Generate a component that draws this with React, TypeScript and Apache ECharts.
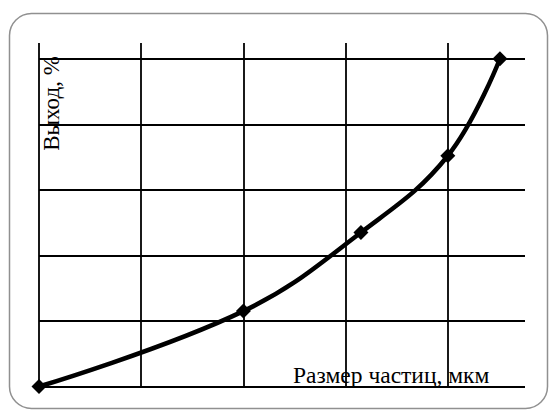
import React, { useEffect, useRef } from "react";
import * as echarts from "echarts";

const xValues = [0, 2, 3.15, 4, 4.51];
const yValues = [0, 1.15, 2.35, 3.52, 5];
const xGridLines = [0, 1, 2, 3, 4];
const yGridLines = [0, 1, 2, 3, 4, 5];
const xTitle = "Размер частиц, мкм";
const yTitle = "Выход, %";

export default function App() {
  const ref = useRef<HTMLDivElement>(null);
  useEffect(() => {
    if (!ref.current) return;
    const chart = echarts.init(ref.current, null, { renderer: "svg" });
    const font = '23px "Liberation Serif", "Times New Roman", serif';
    chart.setOption({
      animation: false,
      backgroundColor: "#fff",
      grid: { left: 39, right: 24, top: 43, bottom: 23.5, containLabel: false },
      xAxis: {
        type: "value",
        min: 0,
        max: 4.755,
        axisLine: { show: false },
        axisTick: { show: false },
        axisLabel: { show: false },
        splitLine: { show: false },
      },
      yAxis: {
        type: "value",
        min: 0,
        max: 5.24,
        axisLine: { show: false },
        axisTick: { show: false },
        axisLabel: { show: false },
        splitLine: { show: false },
      },
      graphic: [
        {
          type: "rect",
          shape: { x: 9.5, y: 13.5, width: 538, height: 395, r: 22 },
          style: { fill: "none", stroke: "#909090", lineWidth: 1.5 },
          z: 0,
        },
        {
          type: "text",
          x: 51,
          y: 103.5,
          rotation: Math.PI / 2,
          style: {
            text: yTitle,
            font,
            fill: "#000",
            textAlign: "center",
            textVerticalAlign: "middle",
          },
          z: 10,
        },
        {
          type: "text",
          x: 293,
          y: 375,
          style: {
            text: xTitle,
            font: '23.5px "Liberation Serif", "Times New Roman", serif',
            fill: "#000",
            textAlign: "left",
            textVerticalAlign: "middle",
          },
          z: 10,
        },
      ],
      series: [
        {
          type: "line",
          data: xValues.map((x, i) => [x, yValues[i]]),
          smooth: 0.4,
          symbol: "diamond",
          symbolSize: 15,
          lineStyle: { color: "#000", width: 4.5 },
          itemStyle: { color: "#000" },
          z: 5,
          markLine: {
            silent: true,
            symbol: "none",
            label: { show: false },
            lineStyle: { color: "#000", width: 1.8, type: "solid" },
            data: [
              ...xGridLines.map((v) => ({ xAxis: v })),
              ...yGridLines.map((v) => ({ yAxis: v })),
            ],
          },
        },
      ],
    });
    return () => chart.dispose();
  }, []);
  return (
    <div
      ref={ref}
      style={{ position: "absolute", left: 0, top: 0, width: 549, height: 410 }}
    />
  );
}
